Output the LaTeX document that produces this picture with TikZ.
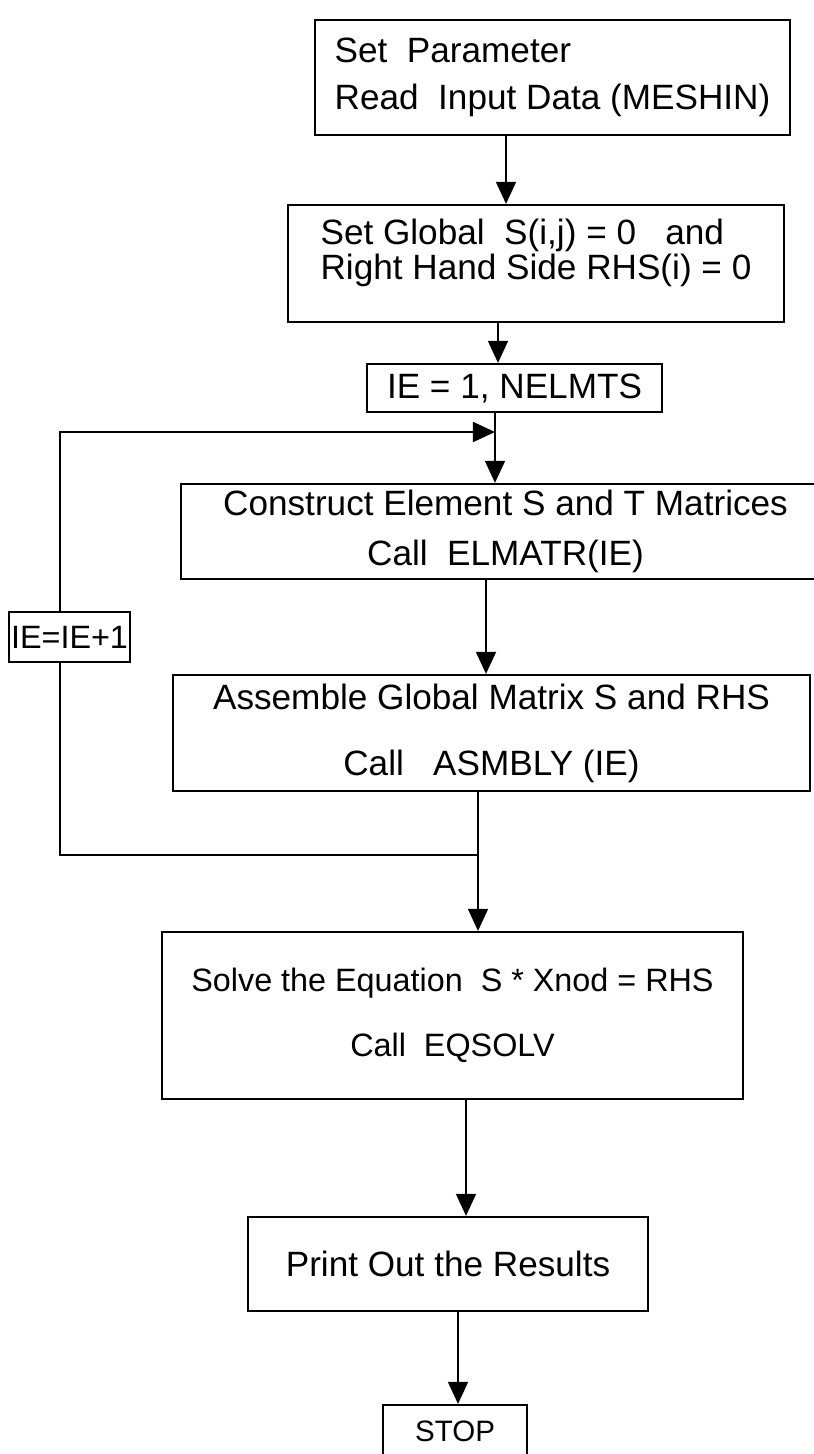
\documentclass[tikz,border=0pt]{standalone}
\usepackage{fontspec}
\setmainfont{Liberation Sans}
\usepackage{tikz}
\usetikzlibrary{arrows.meta}

\begin{document}
\begin{tikzpicture}[
  x=0.025cm, y=-0.025cm,
  box/.style={draw, line width=1.6pt, inner sep=0pt,
    font=\fontsize{25}{30}\selectfont},
  flow/.style={line width=1.2pt, -{Triangle[length=5.5mm, width=5mm]}},
  back/.style={line width=1.2pt},
]
  \useasboundingbox (0,0) rectangle (814,1454);
  \node[box, align=left, minimum width=11.875cm, minimum height=2.875cm]
    (setpar) at (552.5,77.5)
    {Set\ \ Parameter\\[3pt] Read\ \ Input Data (MESHIN)};
  \node[box, align=left, minimum width=12.4cm, minimum height=2.925cm]
    (init) at (536,263.5)
    {Set Global\ \ S(i,j) = 0\ \ \ and\\[-5pt]
     Right Hand Side RHS(i) = 0\\[-10pt]\mbox{}};
  \node[box, minimum width=7.375cm, minimum height=1.2cm]
    (loopstart) at (514.5,388) {IE = 1, NELMTS};
  \node[box, align=center, minimum width=16.225cm, minimum height=2.375cm]
    (elmatr) at (505.5,531.5)
    {Construct Element S and T Matrices\\[5pt] Call\ \ ELMATR(IE)};
  \node[box, align=center, minimum width=15.925cm, minimum height=2.9cm]
    (asmbly) at (491.5,733)
    {Assemble Global Matrix S and RHS\\[17pt] Call\ \ \ ASMBLY (IE)};
  \node[box, minimum width=3.025cm, minimum height=1.25cm,
    font=\fontsize{23}{28}\selectfont]
    (incr) at (69.5,637) {IE=IE+1};
  \node[box, align=center, minimum width=14.525cm, minimum height=4.175cm,
    font=\fontsize{23}{28}\selectfont]
    (eqsolv) at (452.5,1015.5)
    {Solve the Equation\ \ S * Xnod = RHS\\[18pt] Call\ \ EQSOLV};
  \node[box, minimum width=10cm, minimum height=2.35cm]
    (output) at (448,1264) {Print\ Out\ the\ Results};
  \node[box, minimum width=3.6cm, minimum height=1.325cm,
    font=\fontsize{21}{25}\selectfont]
    (stop) at (455,1431.5) {STOP};
  \coordinate (join) at (495,432);
  \coordinate (merge) at (478,855);
  \draw[flow] (setpar.south -| 506,0) -- (init.north -| 506,0);
  \draw[flow] (init.south -| 498,0) -- (loopstart.north -| 498,0);
  \draw[flow] (loopstart.south -| join) -- (elmatr.north -| join);
  \draw[flow] (elmatr.south -| 486,0) -- (asmbly.north -| 486,0);
  \draw[flow] (asmbly.south -| merge) -- (eqsolv.north -| merge);
  \draw[flow] (eqsolv.south -| 466,0) -- (output.north -| 466,0);
  \draw[flow] (output.south -| 458,0) -- (stop.north -| 458,0);
  \draw[flow] (incr.north -| 60,0) |- (join);
  \draw[back] (incr.south -| 60,0) |- (merge);
\end{tikzpicture}
\end{document}
